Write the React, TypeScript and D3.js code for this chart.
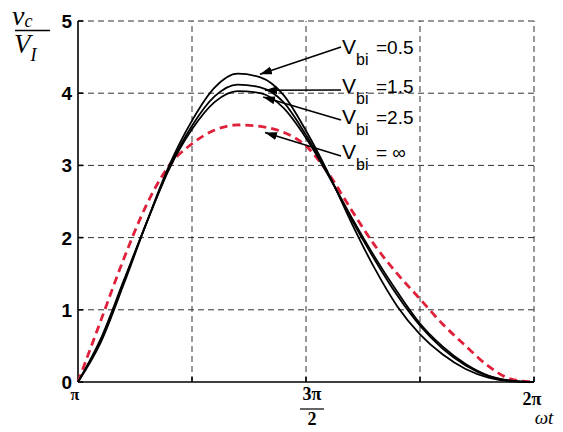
import React from 'react';
import { scaleLinear, line, curveMonotoneX } from 'd3';

const W = 563;
const H = 432;
const margin = { top: 21, right: 29, bottom: 50, left: 78 };

// phase as fraction of the interval pi..2pi
const phase = [0, 0.05, 0.1, 0.15, 0.2, 0.25, 0.3, 0.35, 0.4, 0.45, 0.5, 0.55, 0.6, 0.65, 0.7, 0.75, 0.8, 0.85, 0.9, 0.95, 1.0];

const vbi05 = [0, 0.55, 1.35, 2.2, 3.0, 3.62, 4.08, 4.27, 4.22, 3.98, 3.48, 2.88, 2.2, 1.58, 1.05, 0.66, 0.38, 0.18, 0.06, 0.01, 0];
const vbi15 = [0, 0.58, 1.38, 2.2, 2.97, 3.55, 3.96, 4.12, 4.08, 3.88, 3.42, 2.86, 2.25, 1.7, 1.2, 0.78, 0.46, 0.23, 0.08, 0.015, 0];
const vbi25 = [0, 0.6, 1.4, 2.2, 2.95, 3.5, 3.88, 4.03, 4.0, 3.8, 3.38, 2.85, 2.28, 1.74, 1.25, 0.81, 0.49, 0.25, 0.09, 0.02, 0];
const vbiInf = [0, 0.85, 1.7, 2.45, 3.0, 3.3, 3.49, 3.56, 3.54, 3.46, 3.27, 2.88, 2.38, 1.9, 1.5, 1.15, 0.8, 0.5, 0.22, 0.04, 0];

const yTicks = [0, 1, 2, 3, 4, 5];
const xGrid = [0.25, 0.5, 0.75, 1];

const labelTexts = ['=0.5', '=1.5', '=2.5', '= \u221E'];
const labelSeries = [vbi05, vbi15, vbi25, vbiInf];
const arrowAt = [0.399, 0.41, 0.406, 0.41];
const arrowOff = [-3, 0, 2, 5];
const labelBase = [54, 93, 124, 159];
const arrowStartY = [47, 90, 120, 156];

export default function App() {
  const x = scaleLinear().domain([0, 1]).range([margin.left, W - margin.right]);
  const y = scaleLinear().domain([0, 5]).range([H - margin.bottom, margin.top]);

  const lineFn = (vals: number[]) =>
    line<number>()
      .x((_, i) => x(phase[i]))
      .y((d) => y(d))
      .curve(curveMonotoneX)(vals) || '';

  const valueAt = (vals: number[], t: number) => {
    const i = Math.min(phase.length - 2, Math.floor(t / 0.05));
    const f = (t - phase[i]) / (phase[i + 1] - phase[i]);
    return vals[i] + f * (vals[i + 1] - vals[i]);
  };

  const x0 = x(0);
  const y0 = y(0);

  return (
    <svg width={W} height={H} style={{ position: 'absolute', left: 0, top: 0, background: '#fff' }}>
      <defs>
        <marker id="ah" viewBox="0 0 12 8" refX="12" refY="4" markerWidth="12" markerHeight="8" markerUnits="userSpaceOnUse" orient="auto">
          <path d="M0,0 L12,4 L0,8 z" fill="#000" />
        </marker>
      </defs>

      {/* grid */}
      <g stroke="#333" strokeWidth={1} strokeDasharray="6,4" fill="none">
        {yTicks.slice(1).map((t) => (
          <line key={'gy' + t} x1={x0} x2={x(1)} y1={y(t)} y2={y(t)} />
        ))}
        {xGrid.map((t) => (
          <line key={'gx' + t} x1={x(t)} x2={x(t)} y1={y0} y2={y(5)} />
        ))}
      </g>

      {/* axes */}
      <g stroke="#000" strokeWidth={1.6}>
        <line x1={x0} x2={x0} y1={y0} y2={y(5)} />
        <line x1={x0} x2={x(1)} y1={y0} y2={y0} />
        {yTicks.map((t) => (
          <line key={'ty' + t} x1={x0} x2={x0 + 5} y1={y(t)} y2={y(t)} />
        ))}
        {xGrid.map((t) => (
          <line key={'tx' + t} x1={x(t)} x2={x(t)} y1={y0} y2={y0 - 5} />
        ))}
      </g>

      {/* y tick labels */}
      <g fontFamily="Liberation Sans, Arial, sans-serif" fontSize={19} fontWeight="bold" textAnchor="end">
        {yTicks.map((t) => (
          <text key={'yl' + t} x={x0 - 6} y={y(t) + 7}>{t}</text>
        ))}
      </g>

      {/* x tick labels */}
      <g fontFamily="Liberation Serif, serif" fontSize={18} fontWeight="bold" textAnchor="middle">
        <text x={x(0) - 3} y={y0 + 18} fontSize={16}>π</text>
        <text x={x(0.5) + 6} y={y0 + 18}>3π</text>
        <line x1={x(0.5) - 6} x2={x(0.5) + 18} y1={y0 + 27} y2={y0 + 27} stroke="#000" strokeWidth={1.2} />
        <text x={x(0.5) + 6} y={y0 + 43}>2</text>
        <text x={x(1) - 2} y={y0 + 23}>2π</text>
        <text x={x(1) + 10} y={y0 + 42} fontStyle="italic" fontWeight="normal" fontSize={19}>ωt</text>
      </g>

      {/* y axis label */}
      <g fontFamily="Liberation Serif, serif" fontStyle="italic">
        <text x={12} y={25} fontSize={28}>v<tspan fontSize={18} dy={2}>c</tspan></text>
        <line x1={15} x2={50} y1={30.5} y2={30.5} stroke="#000" strokeWidth={1.4} />
        <text x={14} y={53} fontSize={27}>V<tspan fontSize={18} dy={8}>I</tspan></text>
      </g>

      {/* curves */}
      <g fill="none">
        <path d={lineFn(vbiInf)} stroke="#e0203a" strokeWidth={2.8} strokeDasharray="8,5" />
        <path d={lineFn(vbi25)} stroke="#000" strokeWidth={1.8} />
        <path d={lineFn(vbi15)} stroke="#000" strokeWidth={1.8} />
        <path d={lineFn(vbi05)} stroke="#000" strokeWidth={1.8} />
      </g>

      {/* annotations */}
      <g fontFamily="Liberation Sans, Arial, sans-serif">
        {labelTexts.map((txt, i) => {
          const ty = labelBase[i];
          const s = labelSeries[i];
          return (
            <g key={txt}>
              <line
                x1={341}
                y1={arrowStartY[i]}
                x2={x(arrowAt[i])}
                y2={y(valueAt(s, arrowAt[i])) + arrowOff[i]}
                stroke="#000"
                strokeWidth={1.6}
                markerEnd="url(#ah)"
              />
              <text x={342} y={ty} fontSize={21}>V</text>
              <text x={356} y={ty + 11} fontSize={16}>bi</text>
              <text x={376} y={ty} fontSize={19}>{txt}</text>
            </g>
          );
        })}
      </g>
    </svg>
  );
}
